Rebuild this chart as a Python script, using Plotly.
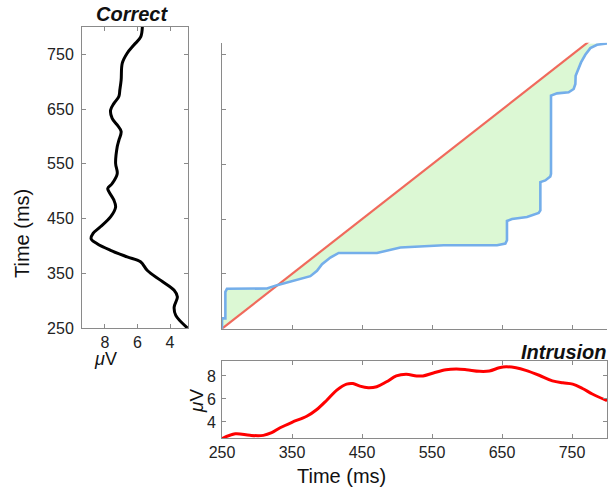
import plotly.graph_objects as go

# ---------------- data ----------------
# Left panel: "Correct" waveform (time in ms, amplitude in µV)
correct_time = [250, 273, 288, 307, 319, 337, 355, 371, 380, 392, 404, 413, 423, 435,
                453, 471, 484, 499, 505, 514, 532, 551, 581, 593, 609, 621, 633, 648,
                660, 673, 685, 703, 734, 752, 767, 782, 800]
correct_uv = [2.93, 3.65, 3.75, 3.55, 3.75, 4.57, 5.39, 5.81, 6.63, 7.65, 8.47, 8.84, 8.72, 8.27,
              7.65, 7.34, 7.45, 7.75, 7.82, 7.55, 7.24, 7.34, 7.24, 7.14, 7.0, 7.24, 7.55, 7.65,
              7.45, 7.14, 7.08, 7.0, 6.93, 6.63, 6.22, 5.8, 5.7]

# Bottom panel: "Intrusion" waveform
intrusion_time = [250, 269, 290, 309, 321, 333, 350, 371, 385, 400, 414, 428, 437, 447,
                  459, 471, 485, 499, 513, 528, 537, 552, 570, 585, 599, 618, 632, 646,
                  656, 670, 684, 703, 722, 737, 751, 765, 779, 800]
intrusion_uv = [2.55, 2.97, 2.83, 2.83, 3.06, 3.49, 3.97, 4.49, 5.06, 5.91, 6.77, 7.29, 7.34, 7.11,
                6.97, 7.06, 7.49, 8.0, 8.14, 8.0, 8.0, 8.26, 8.54, 8.6, 8.54, 8.4, 8.43, 8.71,
                8.8, 8.71, 8.49, 8.06, 7.57, 7.4, 7.29, 6.91, 6.43, 5.85]

# Main panel: warping path (intrusion time -> correct time)
path_x = [250, 250, 254.8, 254.8, 257.1, 314.3, 328.6, 352.4, 376.2, 385.7, 392.9, 404.8,
          416.7, 471.4, 490.5, 504.8, 566.7, 642.9, 654.8, 657.1, 657.1, 664.3, 685.7,
          702.4, 704.8, 704.8, 711.9, 719.0, 720.0, 720.0, 728.6, 745.2, 752.4, 754.8,
          755.2, 758.1, 762.9, 769.0, 776.2, 785.7, 800]
path_y = [250, 268.8, 268.8, 317.4, 322.8, 323.4, 329.5, 337.4, 345.9, 355.6, 367.7, 379.9,
          388.3, 388.3, 393.2, 398.1, 402.3, 402.3, 405.3, 411.4, 446.6, 450.2, 453.9,
          461.2, 466.0, 517.6, 520.6, 527.9, 532.8, 675.4, 679.6, 681.4, 687.5, 696.6,
          711.8, 722.1, 736.0, 750.0, 762.1, 768.2, 770.6]
diag = [250, 800]

time_ticks = [250, 350, 450, 550, 650, 750]
uv_ticks_left = [8, 6, 4]
uv_ticks_bottom = [4, 6, 8]

# ---------------- layout helpers ----------------
W, H = 610, 489
def px(x):
    return x / W
def py(y):
    return 1 - y / H

FONT = "Arial, Liberation Sans, sans-serif"
AX = "#8a8a8a"

fig = go.Figure()

# green fill between path and diagonal
fill_x = path_x + [770, 250]
fill_y = path_y + [770, 250]
fig.add_trace(go.Scatter(x=fill_x, y=fill_y, mode="lines", fill="toself",
                         fillcolor="#dcf8d4", line=dict(width=0), hoverinfo="skip",
                         xaxis="x2", yaxis="y2", showlegend=False))
fig.add_trace(go.Scatter(x=diag, y=diag, mode="lines",
                         line=dict(color="#f06a5c", width=2.2),
                         xaxis="x2", yaxis="y2", showlegend=False))
fig.add_trace(go.Scatter(x=path_x, y=path_y, mode="lines",
                         line=dict(color="#74aeea", width=2.6),
                         xaxis="x2", yaxis="y2", showlegend=False))

# left "Correct" panel
fig.add_trace(go.Scatter(x=correct_uv, y=correct_time, mode="lines",
                         line=dict(color="black", width=3, shape="spline", smoothing=1.0),
                         xaxis="x", yaxis="y", showlegend=False))

# bottom "Intrusion" panel
fig.add_trace(go.Scatter(x=intrusion_time, y=intrusion_uv, mode="lines",
                         line=dict(color="#ff0000", width=3, shape="spline", smoothing=1.0),
                         xaxis="x3", yaxis="y3", showlegend=False))

tickfont = dict(family=FONT, size=16, color="#222222")
common = dict(showgrid=False, zeroline=False, showline=True, linecolor=AX, linewidth=1,
              ticks="inside", ticklen=4, tickcolor=AX, tickfont=tickfont, automargin=False)

fig.update_layout(
    width=W, height=H,
    margin=dict(l=0, r=0, t=0, b=0, autoexpand=False),
    paper_bgcolor="white", plot_bgcolor="white",
    font=dict(family=FONT, color="#222222"),
    xaxis=dict(domain=[px(82), px(188)], range=[9.4, 2.9], anchor="y",
               tickvals=uv_ticks_left, mirror="ticks", ticklabelstandoff=0, **common),
    yaxis=dict(domain=[py(328), py(27)], range=[250, 800], anchor="x",
               tickvals=time_ticks, mirror="ticks", ticklabelstandoff=4, **common),
    xaxis2=dict(domain=[px(222), px(607)], range=[250, 800], anchor="y2",
                tickvals=time_ticks, showticklabels=False, **common),
    yaxis2=dict(domain=[py(328.7), py(42.7)], range=[250, 772], anchor="x2",
                tickvals=time_ticks, showticklabels=False, **common),
    xaxis3=dict(domain=[px(222), px(607)], range=[250, 800], anchor="y3",
                tickvals=time_ticks, mirror="ticks", **common),
    yaxis3=dict(domain=[py(438), py(361)], range=[2.6, 9.3], anchor="x3",
                tickvals=uv_ticks_bottom, mirror="ticks", ticklabelstandoff=2, **common),
)

ann = [
    dict(text="<b><i>Correct</i></b>", x=px(132), y=py(14), size=20, angle=0, xa="center"),
    dict(text="<b><i>Intrusion</i></b>", x=px(609), y=py(352), size=20, angle=0, xa="right"),
    dict(text="Time (ms)", x=px(22), y=py(234), size=20, angle=-90, xa="center"),
    dict(text="<i>μ</i>V", x=px(105), y=py(359), size=18, angle=0, xa="center"),
    dict(text="<i>μ</i>V", x=px(196), y=py(401), size=19, angle=-90, xa="center"),
    dict(text="Time (ms)", x=px(341), y=py(476), size=20, angle=0, xa="center"),
]
for a in ann:
    fig.add_annotation(text=a["text"], x=a["x"], y=a["y"], xref="paper", yref="paper",
                       xanchor=a["xa"], yanchor="middle", showarrow=False,
                       textangle=a["angle"],
                       font=dict(family=FONT, size=a["size"], color="#111111"))

fig.write_html("out.html", config={"displayModeBar": False},
               post_script="document.body.style.margin='0';document.body.style.overflow='hidden';")
